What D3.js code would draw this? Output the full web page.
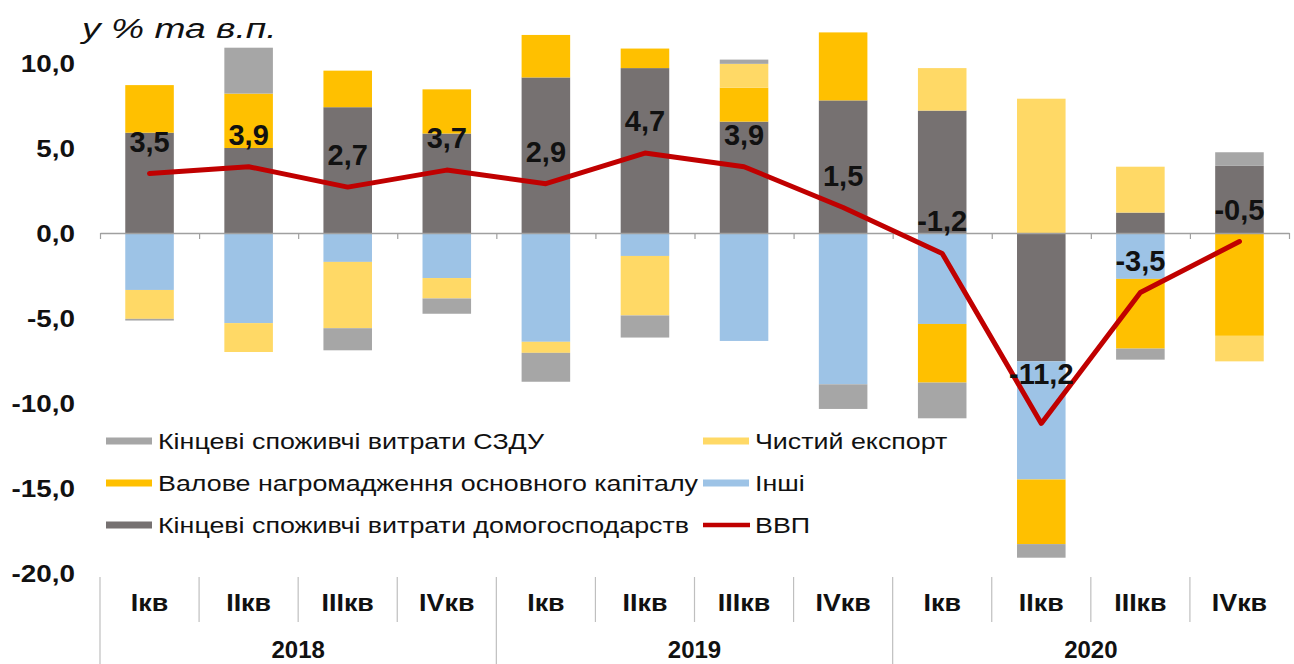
<!DOCTYPE html>
<html><head><meta charset="utf-8">
<script src="https://cdn.jsdelivr.net/npm/d3@7"></script>
<style>
body{margin:0;background:#fff}
svg{display:block}
text{font-family:"Liberation Sans",Arial,sans-serif;fill:#111}
</style>
</head><body>
<svg id="chart" width="1294" height="664"></svg>
<script>
// ---------- DATA ----------
const quarters = ["Ікв","ІІкв","ІІІкв","ІVкв","Ікв","ІІкв","ІІІкв","ІVкв","Ікв","ІІкв","ІІІкв","ІVкв"];
const years = ["2018","2019","2020"];
const households = [5.9, 5.0, 7.4, 5.85, 9.15, 9.7, 6.55, 7.8, 7.2, -7.55, 1.2, 3.95];
const others     = [-3.35, -5.3, -1.7, -2.65, -6.4, -1.35, -6.35, -8.9, -5.35, -6.95, -2.7, 0];
const gfcf       = [2.8, 3.2, 2.15, 2.6, 2.5, 1.15, 2.0, 4.0, -3.45, -3.8, -4.1, -6.05];
const netExport  = [-1.7, -1.7, -3.9, -1.2, -0.65, -3.5, 1.4, 0, 2.5, 7.9, 2.7, -1.5];
const govt       = [-0.1, 2.7, -1.3, -0.9, -1.7, -1.3, 0.25, -1.45, -2.1, -0.8, -0.65, 0.8];
const gdp        = [3.5, 3.9, 2.7, 3.7, 2.9, 4.7, 3.9, 1.5, -1.2, -11.2, -3.5, -0.5];
const yTicks = [10, 5, 0, -5, -10, -15, -20];
const titleText = "у % та в.п.";
const names = {
  govt: "Кінцеві споживчі витрати СЗДУ",
  netExport: "Чистий експорт",
  gfcf: "Валове нагромадження основного капіталу",
  others: "Інші",
  households: "Кінцеві споживчі витрати домогосподарств",
  gdp: "ВВП"
};

// ---------- STYLE ----------
const colors = {
  households: "#767171",
  others: "#9DC3E6",
  gfcf: "#FFC000",
  netExport: "#FFD966",
  govt: "#A6A6A6",
  gdp: "#C00000"
};
const stackKeys = ["households","others","gfcf","netExport","govt"];

const svg = d3.select("#chart");
const table = quarters.map((q,i)=>({i, q, households:households[i], others:others[i], gfcf:gfcf[i], netExport:netExport[i], govt:govt[i], gdp:gdp[i]}));

const loc = d3.formatLocale({decimal:",", thousands:" ", grouping:[3], currency:["",""], minus:"-"});
const f1 = loc.format(".1f");

const left = 100, right = 1289;
const y = d3.scaleLinear().domain([-20, 10]).range([573, 63]);
const x = d3.scaleBand().domain(d3.range(quarters.length)).range([left, right]).paddingInner(0.51).paddingOuter(0.255);
const xb = d3.scaleLinear().domain([0, quarters.length]).range([left, right]);

function stretch(sel, sx){
  sel.each(function(){
    const t = d3.select(this);
    const xx = +t.attr("x") || 0;
    t.attr("x", xx/sx).attr("transform", `scale(${sx},1)`);
  });
}
function addText(parent, px, py, str, opts){
  const g = parent.append("g").attr("transform", `translate(${px},${py})`);
  const t = g.append("text").text(str)
    .attr("text-anchor", opts.anchor || "start")
    .attr("font-size", opts.size)
    .attr("font-weight", opts.weight || "normal")
    .attr("font-style", opts.style || "normal")
    .attr("transform", `scale(${opts.sx||1},1)`);
  return t;
}

// Title
addText(svg, 82, 38, titleText, {size: 28, style: "italic", sx: 1.33});

// Y axis labels
const yAxis = svg.append("g").attr("transform", `translate(75,0)`)
  .call(d3.axisLeft(y).tickValues(yTicks).tickFormat(f1).tickSize(0).tickPadding(0));
yAxis.select(".domain").remove();
yAxis.selectAll("text").attr("font-size", 24).attr("font-weight", "bold").attr("fill", "#111")
  .attr("font-family", '"Liberation Sans",Arial,sans-serif').attr("dy", "0.36em");
stretch(yAxis.selectAll("text"), 1.16);

// Bars
const series = d3.stack().keys(stackKeys).offset(d3.stackOffsetDiverging)(table);
svg.append("g").selectAll("g").data(series).join("g")
  .attr("fill", s => colors[s.key])
  .selectAll("rect").data(s => s).join("rect")
  .attr("x", d => x(d.data.i))
  .attr("width", x.bandwidth())
  .attr("y", d => y(Math.max(d[0], d[1])))
  .attr("height", d => Math.abs(y(d[0]) - y(d[1])));

// Zero axis with boundary ticks
const zeroAxis = svg.append("g").attr("transform", `translate(0,${y(0)})`)
  .call(d3.axisBottom(xb).tickValues(d3.range(quarters.length + 1)).tickFormat("").tickSize(6).tickSizeOuter(0));
zeroAxis.select(".domain").attr("stroke", "#A0A0A0").attr("stroke-width", 1.5);
zeroAxis.selectAll(".tick line").attr("stroke", "#A0A0A0").attr("stroke-width", 1.2);

// GDP line
const line = d3.line().x((d,i) => x(i) + x.bandwidth()/2).y(d => y(d));
svg.append("path").datum(gdp).attr("d", line)
  .attr("fill", "none").attr("stroke", colors.gdp).attr("stroke-width", 5)
  .attr("stroke-linejoin", "round").attr("stroke-linecap", "round");

// Data labels
const gdpMin = d3.min(gdp);
svg.append("g").selectAll("text").data(gdp).join("text")
  .attr("x", (d,i) => x(i) + x.bandwidth()/2)
  .attr("y", d => y(d) - (d === gdpMin ? 39 : 22))
  .attr("text-anchor", "middle")
  .attr("font-size", 29).attr("font-weight", "bold").attr("fill", "#111")
  .text(d => f1(d));

// Category axis (quarters)
const catTop = 577;
const sep = svg.append("g").attr("stroke", "#BFBFBF").attr("stroke-width", 1.2);
d3.range(quarters.length).forEach(k => {
  const isYear = k % 4 === 0;
  sep.append("line").attr("x1", xb(k)).attr("x2", xb(k))
    .attr("y1", catTop).attr("y2", isYear ? 664 : 622);
});
const qAxis = svg.append("g").attr("transform", `translate(0,${catTop})`)
  .call(d3.axisBottom(x).tickFormat(i => quarters[i]).tickSize(0).tickPadding(0));
qAxis.select(".domain").remove();
qAxis.selectAll("text").attr("font-size", 24).attr("font-weight", "bold").attr("fill", "#111")
  .attr("font-family", '"Liberation Sans",Arial,sans-serif').attr("y", 34).attr("dy", 0);
stretch(qAxis.selectAll("text"), 1.12);

// Year labels
years.forEach((yr, k) => {
  addText(svg, (xb(k*4) + xb(k*4+4))/2, 658, yr, {size: 24, weight: "bold", anchor: "middle", sx: 1.0});
});

// Legend
const legendItems = [
  {key:"govt", col:0, row:0}, {key:"netExport", col:1, row:0},
  {key:"gfcf", col:0, row:1}, {key:"others", col:1, row:1},
  {key:"households", col:0, row:2}, {key:"gdp", col:1, row:2}
];
const colX = [106, 703], rowY = [441, 483, 525];
const lg = svg.append("g");
legendItems.forEach(it => {
  const lx = colX[it.col], ly = rowY[it.row];
  if (it.key === "gdp") {
    lg.append("line").attr("x1", lx).attr("x2", lx + 47).attr("y1", ly).attr("y2", ly)
      .attr("stroke", colors.gdp).attr("stroke-width", 4.5);
  } else {
    lg.append("rect").attr("x", lx).attr("y", ly - 3.5).attr("width", 46).attr("height", 7)
      .attr("fill", colors[it.key]);
  }
  addText(lg, lx + 52, ly + 8, names[it.key], {size: 22, sx: 1.22}).attr("fill", "#222");
});
</script>
</body></html>
